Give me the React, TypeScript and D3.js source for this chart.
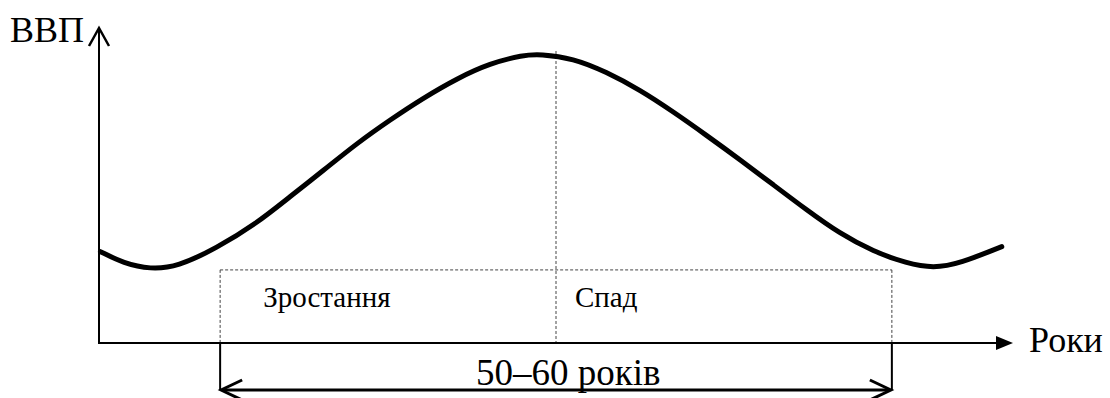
import { useEffect, useRef } from 'react';
import * as d3 from 'd3';

// business cycle curve (years from start of the cycle, GDP in relative units)
const years = [-9.8, -7.9, -5.7, -3.5, -0.3, 3.0, 5.7, 8.5, 11.2, 13.9, 16.6, 19.4, 22.1, 24.8, 26.2,
  28.9, 31.6, 34.4, 37.1, 39.8, 42.6, 45.3, 48.0, 50.7, 53.5, 56.2, 58.4, 60.6, 64.0];
const gdp = [29.0, 25.3, 23.4, 24.2, 30.1, 38.0, 46.4, 54.9, 63.4, 70.8, 77.7, 84.0, 88.8, 91.4, 91.7,
  90.4, 86.1, 80.3, 73.4, 66.0, 58.1, 50.2, 42.3, 34.8, 29.0, 25.3, 23.7, 25.3, 30.6];

// phases of the cycle
const phaseNames = ['Зростання', 'Спад'];
const phaseStart = [0, 27.5];
const phaseEnd = [27.5, 55];
const boxTop = 23.2;
const peakLine = 92.7;

const yLabel = 'ВВП';
const xLabel = 'Роки';
const spanLabel = '50–60 років';

const W = 1110;
const H = 398;

export default function App() {
  const svgRef = useRef<SVGSVGElement | null>(null);

  useEffect(() => {
    if (!svgRef.current) return;
    const svg = d3.select(svgRef.current);
    svg.selectAll('*').remove();

    const x = d3.scaleLinear().domain([-10, 65]).range([98, 1014]);
    const y = d3.scaleLinear().domain([0, 100]).range([343, 28]);

    const x0 = x(-10) + 1;
    const y0 = y(0);

    // dotted phase box
    const dotted = (x1: number, y1: number, x2: number, y2: number) =>
      svg.append('line')
        .attr('x1', x1).attr('y1', y1).attr('x2', x2).attr('y2', y2)
        .attr('stroke', '#444')
        .attr('stroke-width', 1)
        .attr('stroke-dasharray', '3,2');

    const left = x(phaseStart[0]);
    const right = x(phaseEnd[1]);
    dotted(left, y(boxTop), right, y(boxTop));
    dotted(left, y(boxTop), left, y0);
    dotted(right, y(boxTop), right, y0);
    dotted(x(phaseEnd[0]), y(peakLine), x(phaseEnd[0]), y0);

    // phase labels
    const labelPad = [43, 19];
    phaseNames.forEach((name, i) => {
      svg.append('text')
        .attr('class', 'lbl')
        .attr('x', x(phaseStart[i]) + labelPad[i])
        .attr('y', 307)
        .attr('font-size', 29)
        .text(name);
    });

    // curve
    const line = d3.line<number>()
      .x((d, i) => x(years[i]))
      .y((d) => y(d))
      .curve(d3.curveBasis);

    svg.append('path')
      .datum(gdp)
      .attr('d', line)
      .attr('fill', 'none')
      .attr('stroke', '#000')
      .attr('stroke-width', 5)
      .attr('stroke-linecap', 'round');

    // axes
    svg.append('line')
      .attr('x1', x0).attr('y1', y0 + 1)
      .attr('x2', x0).attr('y2', y(100) + 1)
      .attr('stroke', '#000').attr('stroke-width', 2);
    svg.append('path')
      .attr('d', `M${x0 - 10},${y(100) + 18}L${x0},${y(100)}L${x0 + 10},${y(100) + 18}`)
      .attr('fill', 'none').attr('stroke', '#000').attr('stroke-width', 2.5);

    svg.append('line')
      .attr('x1', x0 - 1).attr('y1', y0)
      .attr('x2', x(65) - 10).attr('y2', y0)
      .attr('stroke', '#000').attr('stroke-width', 2);
    svg.append('path')
      .attr('d', `M${x(65) - 1},${y0}L${x(65) - 18},${y0 - 7}L${x(65) - 18},${y0 + 7}Z`)
      .attr('fill', '#000');

    // axis labels
    svg.append('text')
      .attr('class', 'lbl')
      .attr('x', 10).attr('y', 42)
      .attr('font-size', 36)
      .text(yLabel);
    svg.append('text')
      .attr('class', 'lbl')
      .attr('x', 1029).attr('y', 352)
      .attr('font-size', 36)
      .text(xLabel);

    // 50-60 years span
    const ySpan = 390;
    [left, right].forEach((px) => {
      svg.append('line')
        .attr('x1', px).attr('y1', y0)
        .attr('x2', px).attr('y2', ySpan)
        .attr('stroke', '#000').attr('stroke-width', 2);
    });
    svg.append('line')
      .attr('x1', left + 2).attr('y1', ySpan)
      .attr('x2', right - 2).attr('y2', ySpan)
      .attr('stroke', '#000').attr('stroke-width', 3);
    svg.append('path')
      .attr('d', `M${left + 22},${ySpan - 10}L${left + 1},${ySpan}L${left + 22},${ySpan + 10}`)
      .attr('fill', 'none').attr('stroke', '#000').attr('stroke-width', 3);
    svg.append('path')
      .attr('d', `M${right - 22},${ySpan - 10}L${right - 1},${ySpan}L${right - 22},${ySpan + 10}`)
      .attr('fill', 'none').attr('stroke', '#000').attr('stroke-width', 3);

    svg.append('text')
      .attr('class', 'lbl')
      .attr('x', 476).attr('y', 385)
      .attr('font-size', 37)
      .text(spanLabel);
  }, []);

  return (
    <svg
      ref={svgRef}
      width={W}
      height={H}
      style={{ position: 'fixed', left: 0, top: 0, background: '#fff' }}
    >
      <style>{`.lbl { font-family: 'Liberation Serif', 'Times New Roman', Times, serif; fill: #000; }`}</style>
    </svg>
  );
}
